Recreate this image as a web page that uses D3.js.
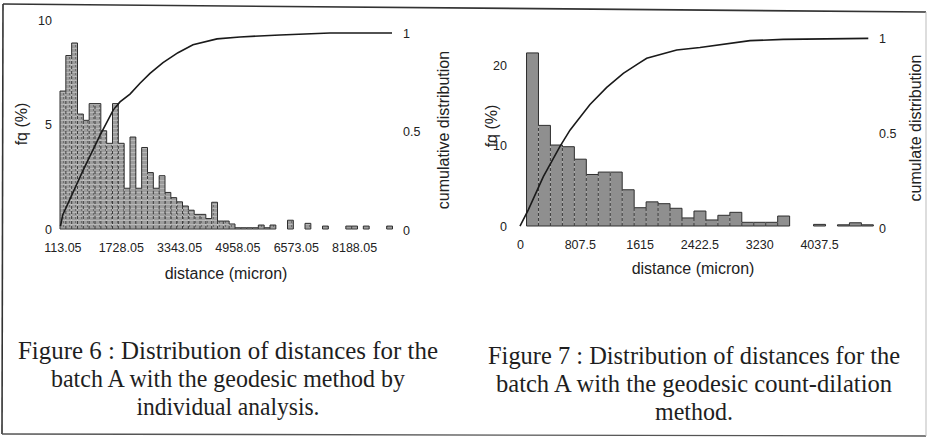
<!DOCTYPE html>
<html><head><meta charset="utf-8">
<script src="https://cdn.jsdelivr.net/npm/d3@7"></script>
<style>body{margin:0;background:#fff}svg{display:block}</style>
</head><body>
<svg id="c" width="928" height="438"></svg>
<script>
// ---------- Figure 6 (individual analysis) ----------
const binStartA = 113.05, binStepA = 161.5;
const freqA = [6.6, 8.3, 8.9, 5.5, 5.2, 6.0, 6.0, 4.7, 4.1, 6.0,
  4.1, 1.95, 4.4, 1.95, 3.9, 2.7, 1.95, 2.55, 1.75, 1.5,
  1.3, 1.1, 0.9, 0.7, 0.7, 0.5, 1.28, 0.38, 0.38, 0.24,
  0.06, 0.06, 0.06, 0.06, 0.19, 0.06, 0.19, 0, 0, 0.42,
  0, 0, 0.27, 0, 0, 0.14, 0, 0, 0, 0.14,
  0.14, 0, 0.14, 0, 0, 0, 0.14];
const xTicksA = ["113.05", "1728.05", "3343.05", "4958.05", "6573.05", "8188.05"];
const yTicksA = [0, 5, 10];
const y2TicksA = [0, 0.5, 1];
const cumDistA = [127, 188, 758, 1220, 1589, 1774, 2051, 2328, 2605, 2965, 3380, 3795, 4460, 5096, 6204, 7588, 9305];
const cumA = [0.02, 0.076, 0.305, 0.48, 0.61, 0.65, 0.69, 0.745, 0.795, 0.85, 0.9, 0.94, 0.97, 0.98, 0.99, 1.0, 1.0];

// ---------- Figure 7 (count-dilation) ----------
const binStartB = 88, binStepB = 161.5;
const freqB = [21.5, 12.5, 10.06, 9.85, 8.3, 6.4, 6.7, 6.7, 4.5, 2.27,
  3.0, 2.77, 2.2, 1.0, 1.86, 0.75, 1.33, 1.7, 0.46, 0.46,
  0.46, 1.24, 0, 0, 0.2, 0, 0.15, 0.4, 0.15];
const xTicksB = [0, 807.5, 1615, 2422.5, 3230, 4037.5];
const yTicksB = [0, 10, 20];
const y2TicksB = [0, 0.5, 1];
const cumDistB = [0, 112, 315, 540, 675, 766, 945, 1171, 1395, 1597, 1711, 2116, 2430, 3106, 3555, 4703];
const cumB = [0.01, 0.095, 0.27, 0.43, 0.515, 0.56, 0.65, 0.74, 0.814, 0.865, 0.893, 0.937, 0.95, 0.986, 0.993, 0.998];

// ---------- captions ----------
const captionA = ["Figure 6 : Distribution of distances for the", "batch A with the geodesic method by", "individual analysis."];
const captionB = ["Figure 7 : Distribution of distances for the", "batch A with the geodesic count-dilation", "method."];

const svg = d3.select("#c");
const SANS = "Liberation Sans, Arial, Helvetica, sans-serif";
const INK = "#222";

const defs = svg.append("defs");
const pat = defs.append("pattern").attr("id", "pA").attr("width", 6).attr("height", 4)
  .attr("patternUnits", "userSpaceOnUse");
pat.append("rect").attr("width", 6).attr("height", 4).attr("fill", "#9c9c9c");
pat.append("rect").attr("width", 6).attr("height", 1).attr("fill", "#b8b8b8");
pat.append("rect").attr("x", 3).attr("y", 1).attr("width", 1).attr("height", 2).attr("fill", "#6e6e6e");

// frame of the scanned page
svg.append("path").attr("d", "M3,4 L926,12").attr("stroke", "#333").attr("stroke-width", 1.6).attr("fill", "none");
svg.append("path").attr("d", "M3,4 L2,434").attr("stroke", "#333").attr("stroke-width", 1.6).attr("fill", "none");
svg.append("path").attr("d", "M2,434 L926,436").attr("stroke", "#555").attr("stroke-width", 1.4).attr("fill", "none");
svg.append("path").attr("d", "M926,12 L926,436").attr("stroke", "#bbb").attr("stroke-width", 1).attr("fill", "none");

function drawHist(g, xs, w, vals, y, fill) {
  const base = y(0);
  g.selectAll("rect.bar").data(vals).join("rect").attr("class", "bar")
    .attr("x", (d, i) => xs[i]).attr("width", w)
    .attr("y", d => y(d)).attr("height", d => base - y(d))
    .attr("fill", fill);
  const segs = [];
  vals.forEach((h, i) => {
    const prev = i > 0 ? vals[i - 1] : 0;
    const x0 = xs[i];
    if (h > 0) {
      segs.push({x1: x0, y1: y(h), x2: x0 + w, y2: y(h)});
      segs.push({x1: x0, y1: base, x2: x0 + w, y2: base});
    }
    const lo = Math.min(h, prev), hi = Math.max(h, prev);
    if (lo > 0) segs.push({x1: x0, y1: base, x2: x0, y2: y(lo), dash: true});
    if (hi > lo) segs.push({x1: x0, y1: y(lo), x2: x0, y2: y(hi)});
  });
  const n = vals.length;
  if (vals[n - 1] > 0) segs.push({x1: xs[n - 1] + w, y1: base, x2: xs[n - 1] + w, y2: y(vals[n - 1])});
  g.selectAll("line.seg").data(segs).join("line").attr("class", "seg")
    .attr("x1", d => d.x1).attr("y1", d => d.y1).attr("x2", d => d.x2).attr("y2", d => d.y2)
    .attr("stroke", d => d.dash ? "#3c3c3c" : "#2e2e2e")
    .attr("stroke-width", 1)
    .attr("stroke-dasharray", d => d.dash ? "3,2" : null);
}

function styleAxis(g) {
  g.select(".domain").remove();
  g.attr("font-family", SANS).attr("font-size", 12.5).attr("color", INK);
}

function title(g, x, y, rot, txt) {
  g.append("text").attr("transform", `translate(${x},${y})` + (rot ? " rotate(-90)" : ""))
    .attr("text-anchor", "middle").attr("font-family", SANS).attr("font-size", 16)
    .attr("fill", INK).text(txt);
}

// ================= Chart A =================
{
  const g = svg.append("g");
  const cats = freqA.map((d, i) => (binStartA + i * binStepA).toFixed(2));
  const x = d3.scaleBand().domain(cats).range([60, 392.5]).paddingInner(0).paddingOuter(0);
  const xLin = d3.scaleLinear().domain([binStartA, binStartA + freqA.length * binStepA]).range([60, 392.5]);
  const y = d3.scaleLinear().domain([0, 10]).range([229, 20]);
  const y2 = d3.scaleLinear().domain([0, 1]).range([230, 33]);

  drawHist(g.append("g"), cats.map(c => x(c)), x.bandwidth(), freqA, y, "url(#pA)");

  g.append("path").datum(cumDistA.map((d, i) => [d, cumA[i]]))
    .attr("d", d3.line().x(d => xLin(d[0])).y(d => y2(d[1])))
    .attr("fill", "none").attr("stroke", "#1a1a1a").attr("stroke-width", 1.6);

  g.append("g").attr("transform", "translate(0,243)")
    .call(d3.axisBottom(x).tickValues(xTicksA).tickSize(0).tickPadding(0)).call(styleAxis);
  g.append("g").attr("transform", "translate(52,0)")
    .call(d3.axisLeft(y).tickValues(yTicksA).tickSize(0).tickPadding(0).tickFormat(d3.format(""))).call(styleAxis);
  g.append("g").attr("transform", "translate(403,0)")
    .call(d3.axisRight(y2).tickValues(y2TicksA).tickSize(0).tickPadding(0).tickFormat(d3.format(""))).call(styleAxis);

  title(g, 226, 279, false, "distance (micron)");
  title(g, 27, 124, true, "fq (%)");
  title(g, 449, 130, true, "cumulative distribution");
}

// ================= Chart B =================
{
  const g = svg.append("g");
  const x = d3.scaleLinear().domain([0, 4845]).range([520, 878.8]);
  const y = d3.scaleLinear().domain([0, 20]).range([226, 65]);
  const y2 = d3.scaleLinear().domain([0, 1]).range([228, 38]);
  const xs = freqB.map((d, i) => x(binStartB + i * binStepB));
  const w = x(binStepB) - x(0);

  drawHist(g.append("g"), xs, w, freqB, y, "#8f8f8f");

  g.append("path").datum(cumDistB.map((d, i) => [d, cumB[i]]))
    .attr("d", d3.line().x(d => x(d[0])).y(d => y2(d[1])))
    .attr("fill", "none").attr("stroke", "#1a1a1a").attr("stroke-width", 1.6);

  g.append("g").attr("transform", "translate(0,240.5)")
    .call(d3.axisBottom(x).tickValues(xTicksB).tickSize(0).tickPadding(0).tickFormat(d => String(d))).call(styleAxis);
  g.append("g").attr("transform", "translate(507,0)")
    .call(d3.axisLeft(y).tickValues(yTicksB).tickSize(0).tickPadding(0).tickFormat(d3.format(""))).call(styleAxis);
  g.append("g").attr("transform", "translate(879,0)")
    .call(d3.axisRight(y2).tickValues(y2TicksB).tickSize(0).tickPadding(0).tickFormat(d3.format(""))).call(styleAxis);

  title(g, 693, 274, false, "distance (micron)");
  title(g, 497, 126, true, "fq (%)");
  title(g, 921, 128, true, "cumulate distribution");
}

// ================= Captions =================
function caption(lines, cx, ys, widths) {
  svg.append("g").selectAll("text").data(lines).join("text")
    .attr("x", cx).attr("y", (d, i) => ys[i]).attr("text-anchor", "middle")
    .attr("font-family", "Liberation Serif, Times New Roman, serif").attr("font-size", 26)
    .attr("fill", "#1e1e1e")
    .attr("textLength", (d, i) => widths[i]).attr("lengthAdjust", "spacingAndGlyphs")
    .text(d => d);
}
caption(captionA, 228, [359, 387, 415], [420, 354, 183]);
caption(captionB, 694, [364, 392, 420], [412, 396, 78]);
</script>
</body></html>
